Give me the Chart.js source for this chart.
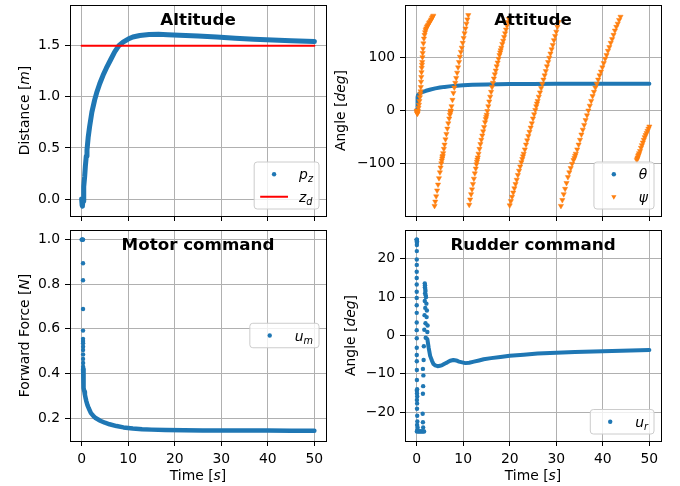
<!DOCTYPE html>
<html>
<head>
<meta charset="utf-8">
<script src="https://cdn.jsdelivr.net/npm/chart.js@4.4.1/dist/chart.umd.min.js"></script>
<style>
  body { margin: 0; background: #fff; }
  #fig { position: relative; width: 680px; height: 486px; }
  #fig canvas { position: absolute; left: 0; top: 0; }
</style>
</head>
<body>
<div id="fig">
  <canvas id="alt" width="680" height="486"></canvas>
  <canvas id="att" width="680" height="486"></canvas>
  <canvas id="motor" width="680" height="486"></canvas>
  <canvas id="rudder" width="680" height="486"></canvas>
</div>
<script>
// ---- tick values ----
const timeTicks = [0, 10, 20, 30, 40, 50];
const altTicks = [0, 0.5, 1.0, 1.5];
const attTicks = [-100, 0, 100];
const motorTicks = [0.2, 0.4, 0.6, 0.8, 1.0];
const rudderTicks = [-20, -10, 0, 10, 20];

// ---- altitude ----
const altTime = [0, 0.05, 0.1, 0.15, 0.2, 0.3, 0.4, 0.5, 0.65, 0.8, 1.0, 1.15, 1.4, 1.72, 2.2, 2.8, 3.3, 3.9, 4.6, 5.3, 6.2, 7.1, 8.0, 8.9, 10.0, 11.0, 12.5, 14.5, 16.5, 18.5, 21, 25, 29, 33, 37, 41, 45, 50];
const altPz = [0, -0.03, -0.06, -0.07, -0.06, -0.02, 0.05, 0.12, 0.22, 0.32, 0.42, 0.48, 0.6, 0.71, 0.85, 0.97, 1.05, 1.13, 1.21, 1.28, 1.36, 1.44, 1.5, 1.535, 1.565, 1.585, 1.6, 1.61, 1.611, 1.608, 1.603, 1.595, 1.585, 1.573, 1.563, 1.555, 1.548, 1.54];
const zdTime = [0, 50];
const zdVal = [1.5, 1.5];

// ---- attitude ----
const thetaTime = [0, 0.08, 0.15, 0.2, 0.25, 0.3, 0.5, 0.8, 1.2, 2, 3, 4, 5, 6, 7, 8, 10, 12, 15, 20, 25, 30, 35, 40, 45, 50];
const thetaDeg = [0, 2, 10, 18, 25, 29, 31, 33, 34.5, 37, 39.5, 41.5, 43, 44.3, 45.3, 46.2, 47.4, 48.3, 49, 49.6, 49.9, 50, 50, 50, 50, 50];
const psiTime = [
  0, 0.05, 0.1, 0.15, 0.2, 0.3, 0.4, 0.5, 0.6, 0.7, 0.8, 0.86, 0.9, 0.95, 1.0, 1.05, 1.1, 1.15, 1.2, 1.25, 1.3, 1.36, 1.45, 1.57, 1.7, 1.82, 1.93, 2.05, 2.2, 2.35, 2.5, 2.65, 2.8, 3.0, 3.15, 3.3, 3.45, 3.58,
  3.85, 4.0, 4.2, 4.4, 4.6, 4.8, 5.0, 5.15, 5.3, 5.4, 5.5, 5.55, 5.6, 5.7, 5.85, 6.0, 6.2, 6.4, 6.6, 6.8, 7.0, 7.15, 7.25, 7.3, 7.35, 7.5, 7.7, 7.9, 8.1, 8.3, 8.5, 8.7, 8.9, 9.1, 9.3, 9.5, 9.7, 9.9, 10.1, 10.3, 10.5, 10.7, 10.9, 11.1,
  11.3, 11.5, 11.7, 11.9, 12.1, 12.3, 12.5, 12.7, 12.85, 12.95, 13.05, 13.15, 13.3, 13.5, 13.7, 13.9, 14.1, 14.3, 14.5, 14.7, 14.85, 14.95, 15.05, 15.2, 15.4, 15.6, 15.8, 16.0, 16.2, 16.4, 16.6, 16.8, 17.0, 17.2, 17.4, 17.6, 17.8, 17.95, 18.05, 18.2, 18.4, 18.6, 18.8, 19.0, 19.2, 19.4, 19.6, 19.8,
  20.0, 20.25, 20.5, 20.75, 21.0, 21.25, 21.5, 21.75, 22.0, 22.25, 22.5, 22.7, 22.85, 23.0, 23.25, 23.5, 23.75, 24.0, 24.25, 24.5, 24.75, 25.0, 25.25, 25.5, 25.7, 25.85, 26.0, 26.25, 26.5, 26.75, 27.0, 27.25, 27.5, 27.75, 28.0, 28.25, 28.5, 28.75, 29.0, 29.25, 29.5, 29.75, 30.0, 30.25, 30.5,
  31.0, 31.3, 31.6, 31.9, 32.2, 32.5, 32.8, 33.1, 33.4, 33.7, 33.9, 34.05, 34.2, 34.5, 34.8, 35.1, 35.4, 35.7, 36.0, 36.3, 36.6, 36.9, 37.2, 37.5, 37.8, 38.1, 38.4, 38.7, 39.0, 39.3, 39.6, 39.9, 40.2, 40.5, 40.8, 41.1, 41.4, 41.7, 42.0, 42.3, 42.6, 42.9, 43.2, 43.5, 43.8,
  47.3, 47.4, 47.5, 47.6, 47.7, 47.8, 48.0, 48.2, 48.4, 48.6, 48.8, 49.0, 49.2, 49.4, 49.6, 49.8, 50.0
];
const psiDeg = [
  0, -3, -5, -6, -5, -1, 5, 11, 18, 25, 31, 36, 44, 54, 63, 72, 80, 86, 91, 100, 108, 116, 126, 135, 142, 147, 151, 154, 157, 159, 161, 164, 166, 169, 171, 174, 176, 178,
  -179, -171, -161, -150, -139, -127, -116, -107, -99, -94, -90, -87, -85, -80, -72, -64, -54, -44, -34, -24, -15, -8, -4, -2, 0, 8, 20, 33, 43, 52, 61, 71, 81, 91, 101, 110, 118, 127, 136, 145, 154, 163, 171, 179,
  -177, -167, -157, -148, -138, -128, -118, -109, -101, -96, -92, -88, -81, -72, -63, -55, -47, -39, -31, -22, -16, -12, -8, -1, 8, 17, 26, 35, 44, 52, 60, 68, 75, 83, 90, 97, 104, 109, 113, 118, 125, 131, 138, 145, 152, 159, 166, 172,
  -178, -170, -162, -154, -146, -138, -130, -121, -113, -105, -97, -91, -86, -81, -73, -64, -56, -48, -40, -32, -24, -15, -7, 1, 8, 13, 18, 26, 34, 42, 50, 58, 66, 74, 83, 91, 99, 107, 115, 123, 132, 140, 148, 157, 166,
  -179, -168, -157, -147, -136, -125, -116, -108, -100, -93, -89, -85, -81, -73, -64, -55, -45, -36, -27, -18, -9, 0, 9, 18, 27, 35, 43, 50, 58, 66, 73, 81, 89, 97, 104, 112, 119, 127, 134, 142, 150, 157, 163, 170, 176,
  -93, -90, -88, -85, -83, -80, -76, -70, -65, -60, -55, -50, -46, -42, -38, -34, -30
];

// ---- motor command ----
const motorJumpTime = [0, 0.08, 0.16, 0.24, 0.3, 0.3, 0.3, 0.3, 0.3, 0.3, 0.3, 0.31, 0.31, 0.31, 0.31, 0.31, 0.32, 0.32, 0.32];
const motorJumpVal = [1, 1, 1, 1, 1, 0.894, 0.818, 0.689, 0.592, 0.555, 0.545, 0.535, 0.52, 0.505, 0.485, 0.465, 0.447, 0.43, 0.42];
const motorTime = [0.32, 0.34, 0.37, 0.4, 0.45, 0.5, 0.6, 0.7, 0.85, 1.0, 1.25, 1.5, 2.0, 2.5, 3.0, 4.0, 5.0, 6.0, 7.5, 9.0, 11, 13, 15, 18, 22, 26, 30, 35, 40, 45, 50];
const motorVal = [0.42, 0.4, 0.38, 0.365, 0.35, 0.335, 0.318, 0.305, 0.29, 0.276, 0.258, 0.245, 0.222, 0.21, 0.2, 0.188, 0.179, 0.172, 0.164, 0.158, 0.153, 0.15, 0.148, 0.146, 0.145, 0.144, 0.144, 0.144, 0.144, 0.143, 0.143];

// ---- rudder command ----
const rudderJumpTime = [
  0, 0.02, 0.04, 0.06, 0.06, 0.05, 0.04, 0.03, 0.03, 0.02, 0.02, 0.02, 0.02, 0.02, 0.02, 0.02, 0.02, 0.02, 0.03, 0.03, 0.03, 0.04, 0.05, 0.06, 0.1, 0.05, 0.08, 0.12, 0.06, 0.1, 0.08, 0.12, 0.15, 0.1, 0.2, 0.15, 0.05,
  0.25, 0.45, 0.65, 0.85, 1.05, 1.25, 1.45, 1.6,
  1.75, 1.8, 1.78, 1.85, 1.9, 1.82, 1.95, 2.0, 1.75, 2.1, 1.85, 2.2, 1.7, 2.15, 1.9, 2.35, 1.65, 2.3, 1.95, 1.55, 1.5, 1.35, 1.45, 1.4, 1.35, 1.3, 1.35, 1.4
];
const rudderJumpDeg = [
  25, 25, 25, 24.6, 24.2, 23.6, 22.0, 19.8, 18.4, 16.6, 15.0, 13.3, 11.4, 9.8, 7.9, 5.9, 3.4, 1.4, -0.7, -3.2, -5.1, -6.7, -9.0, -11.6, -14.0, -14.4, -15.1, -15.9, -16.8, -17.7, -19.1, -20.9, -22.4, -23.3, -24.0, -24.6, -25,
  -25, -25, -25, -25, -25, -25, -25, -25,
  13.6, 13.1, 12.6, 12.1, 11.6, 11.0, 10.5, 10.0, 9.0, 8.3, 7.2, 6.5, 5.3, 4.8, 3.2, 2.6, 1.5, 0.9, -0.6, -2.8, -6.4, -8.7, -10.4, -13.2, -15.2, -20.4, -22.6, -24.0
];
const rudderTime = [2.3, 2.6, 2.9, 3.3, 3.6, 4.0, 4.5, 5.0, 5.5, 6.1, 6.6, 7.2, 7.9, 8.5, 9.1, 9.8, 10.5, 11.3, 12.3, 13.4, 14.4, 16, 18, 20, 23, 26, 30, 34, 38, 42, 46, 50];
const rudderDeg = [-0.9, -3.3, -5.3, -6.6, -7.4, -7.8, -8.0, -7.9, -7.7, -7.3, -7.0, -6.6, -6.4, -6.5, -6.8, -7.0, -7.2, -7.1, -6.8, -6.5, -6.2, -5.9, -5.6, -5.3, -5.0, -4.7, -4.5, -4.3, -4.15, -4.05, -3.9, -3.8];

// ---- look ----
const W = 680, H = 486, Y_W = 50, X_H = 40;
const FONT = '"DejaVu Sans", sans-serif';
const FS = 13.9;
const BLUE = '#1f77b4', ORANGE = '#ff7f0e', RED = '#ff0000';

const pts = (xs, ys) => xs.map((x, i) => ({x, y: ys[i]}));
const minus = s => s.replace('-', '\u2212');
const fmt0 = v => minus(String(Math.round(v)));
const fmt1 = v => minus(v.toFixed(1));

// tiny mathtext: "Distance [$m$]", "$p_z$"
function rich(s) {
  const out = [];
  s.split('$').forEach((seg, i) => {
    if (!seg) return;
    if (i % 2 === 0) { out.push({t: seg}); return; }
    const [base, sub] = seg.split('_');
    out.push({t: base, it: true});
    if (sub) out.push({t: sub, it: true, sub: true});
  });
  return out;
}
const runFont = (r, size) => (r.it ? 'italic ' : '') + (r.sub ? size * 0.7 : size) + 'px ' + FONT;
function runsWidth(ctx, runs, size) {
  let w = 0;
  runs.forEach(r => { ctx.font = runFont(r, size); w += ctx.measureText(r.t).width; });
  return w;
}
function drawRuns(ctx, runs, x, y, size) {
  ctx.textAlign = 'left';
  ctx.textBaseline = 'alphabetic';
  runs.forEach(r => {
    ctx.font = runFont(r, size);
    ctx.fillText(r.t, x, y + (r.sub ? size * 0.22 : 0));
    x += ctx.measureText(r.t).width;
  });
}

function roundRect(ctx, x, y, w, h, r) {
  ctx.beginPath();
  ctx.moveTo(x + r, y);
  ctx.arcTo(x + w, y, x + w, y + h, r);
  ctx.arcTo(x + w, y + h, x, y + h, r);
  ctx.arcTo(x, y + h, x, y, r);
  ctx.arcTo(x, y, x + w, y, r);
  ctx.closePath();
}

function drawLegend(ctx, a, lg) {
  const pad = 6, hl = 27.8, gap = 11.1, pitch = 22.5;
  const tw = Math.max(...lg.items.map(it => runsWidth(ctx, rich(it.label), FS)));
  const w = pad + hl + gap + tw + pad;
  const h = 24.5 + pitch * (lg.items.length - 1);
  const x = a.right - 7 - w;
  const y = lg.loc === 'center right' ? (a.top + a.bottom - h) / 2 : a.bottom - 7 - h;
  roundRect(ctx, x, y, w, h, 3);
  ctx.fillStyle = 'rgba(255,255,255,0.8)';
  ctx.fill();
  ctx.strokeStyle = '#cccccc';
  ctx.lineWidth = 1;
  ctx.stroke();
  lg.items.forEach((it, i) => {
    const cy = y + 12.25 + pitch * i, hx = x + pad + hl / 2;
    ctx.fillStyle = ctx.strokeStyle = it.color;
    ctx.beginPath();
    if (it.kind === 'line') {
      ctx.lineWidth = 2;
      ctx.moveTo(x + pad, cy);
      ctx.lineTo(x + pad + hl, cy);
      ctx.stroke();
    } else if (it.kind === 'dot') {
      ctx.arc(hx, cy, 2.2, 0, Math.PI * 2);
      ctx.fill();
    } else {
      ctx.moveTo(hx - 2.6, cy - 1.5);
      ctx.lineTo(hx + 2.6, cy - 1.5);
      ctx.lineTo(hx, cy + 3);
      ctx.closePath();
      ctx.fill();
    }
    ctx.fillStyle = '#000';
    drawRuns(ctx, rich(it.label), x + pad + hl + gap, cy + 5, FS);
  });
}

function makeDeco(d) {
  return {
    id: 'deco',
    afterDatasetsDraw(chart) {
      const ctx = chart.ctx, a = chart.chartArea;
      ctx.save();
      ctx.strokeStyle = '#000';
      ctx.lineWidth = 1;
      ctx.strokeRect(a.left + 0.5, a.top + 0.5, a.right - a.left, a.bottom - a.top);

      ctx.fillStyle = '#000';
      ctx.font = 'bold 16.7px ' + FONT;
      ctx.textAlign = 'center';
      ctx.textBaseline = 'alphabetic';
      ctx.fillText(d.title, (a.left + a.right) / 2, a.top + 20.3);

      const yr = rich(d.yLabel);
      const yw = runsWidth(ctx, yr, FS);
      ctx.save();
      ctx.translate(d.yLabelX, (a.top + a.bottom) / 2);
      ctx.rotate(-Math.PI / 2);
      drawRuns(ctx, yr, -yw / 2, 0, FS);
      ctx.restore();

      if (d.xLabel) {
        const xr = rich(d.xLabel);
        const xw = runsWidth(ctx, xr, FS);
        drawRuns(ctx, xr, (a.left + a.right) / 2 - xw / 2, 480, FS);
      }
      drawLegend(ctx, a, d.legend);
      ctx.restore();
    }
  };
}

function axis(min, max, values, fmt, showLabels, horiz) {
  return {
    type: 'linear', min, max, bounds: 'data',
    afterBuildTicks: s => { s.ticks = values.map(v => ({value: v})); },
    afterFit: s => {
      if (horiz) { s.height = X_H; s.paddingLeft = 0; s.paddingRight = 0; }
      else { s.width = Y_W; s.paddingTop = 0; s.paddingBottom = 0; }
    },
    grid: {color: '#b0b0b0', lineWidth: 1, tickLength: 5, tickColor: '#000', tickWidth: 1},
    border: {display: false},
    ticks: {
      display: showLabels, autoSkip: false, maxRotation: 0, padding: 4.9,
      color: '#000', font: {family: FONT, size: FS},
      callback: v => fmt(v)
    }
  };
}

function panel(id, c) {
  const a = c.area;
  return new Chart(document.getElementById(id), {
    type: 'scatter',
    data: {datasets: c.datasets},
    options: {
      responsive: false, animation: false, events: [],
      layout: {padding: {left: a.left - Y_W, top: a.top, right: W - a.right, bottom: H - a.bottom - X_H}},
      plugins: {legend: {display: false}, tooltip: {enabled: false}},
      scales: {
        x: axis(-2.5, 52.5, timeTicks, fmt0, c.xLabels, true),
        y: axis(c.yMin, c.yMax, c.yTicks, c.yFmt, true, false)
      }
    },
    plugins: [makeDeco(c.deco)]
  });
}

const curve = (data, color, width) => ({
  data, showLine: true, borderColor: color, borderWidth: width, pointRadius: 0,
  borderCapStyle: 'round', borderJoinStyle: 'round', tension: 0
});
const dots = (data, color) => ({
  data, showLine: false, pointRadius: 2.2, pointStyle: 'circle',
  backgroundColor: color, borderColor: color, borderWidth: 0
});

panel('alt', {
  area: {left: 70, top: 5, right: 326, bottom: 216},
  yMin: -0.166, yMax: 1.898, yTicks: altTicks, yFmt: fmt1, xLabels: false,
  datasets: [
    curve(pts(zdTime, zdVal), RED, 2.1),
    curve(pts(altTime, altPz), BLUE, 5)
  ],
  deco: {
    title: 'Altitude', yLabel: 'Distance [$m$]', yLabelX: 29,
    legend: {loc: 'lower right', items: [
      {label: '$p_z$', kind: 'dot', color: BLUE},
      {label: '$z_d$', kind: 'line', color: RED}
    ]}
  }
});

panel('att', {
  area: {left: 405, top: 5, right: 661, bottom: 216},
  yMin: -198, yMax: 198, yTicks: attTicks, yFmt: fmt0, xLabels: false,
  datasets: [
    {
      data: pts(psiTime, psiDeg), showLine: false, pointStyle: 'triangle', rotation: 180,
      pointRadius: 3, backgroundColor: ORANGE, borderColor: ORANGE, borderWidth: 0.5
    },
    curve(pts(thetaTime, thetaDeg), BLUE, 4)
  ],
  deco: {
    title: 'Attitude', yLabel: 'Angle [$deg$]', yLabelX: 345,
    legend: {loc: 'lower right', items: [
      {label: '$θ$', kind: 'dot', color: BLUE},
      {label: '$ψ$', kind: 'tri', color: ORANGE}
    ]}
  }
});

panel('motor', {
  area: {left: 70, top: 230, right: 326, bottom: 441},
  yMin: 0.097, yMax: 1.043, yTicks: motorTicks, yFmt: fmt1, xLabels: true,
  datasets: [
    dots(pts(motorJumpTime, motorJumpVal), BLUE),
    curve(pts(motorTime, motorVal), BLUE, 4.5)
  ],
  deco: {
    title: 'Motor command', yLabel: 'Forward Force [$N$]', yLabelX: 29, xLabel: 'Time [$s$]',
    legend: {loc: 'center right', items: [
      {label: '$u_m$', kind: 'dot', color: BLUE}
    ]}
  }
});

panel('rudder', {
  area: {left: 405, top: 230, right: 661, bottom: 441},
  yMin: -27.5, yMax: 27.5, yTicks: rudderTicks, yFmt: fmt0, xLabels: true,
  datasets: [
    dots(pts(rudderJumpTime, rudderJumpDeg), BLUE),
    curve(pts(rudderTime, rudderDeg), BLUE, 4)
  ],
  deco: {
    title: 'Rudder command', yLabel: 'Angle [$deg$]', yLabelX: 355, xLabel: 'Time [$s$]',
    legend: {loc: 'lower right', items: [
      {label: '$u_r$', kind: 'dot', color: BLUE}
    ]}
  }
});
</script>
</body>
</html>
